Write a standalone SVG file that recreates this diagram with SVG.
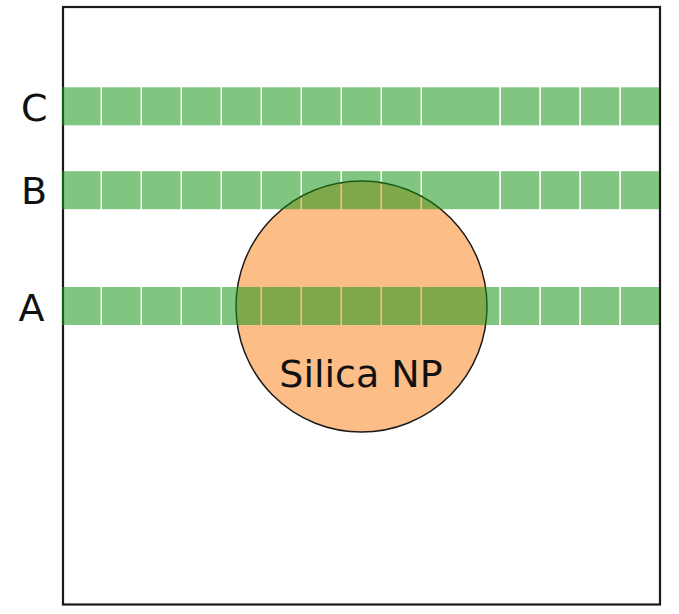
<svg xmlns="http://www.w3.org/2000/svg" xmlns:xlink="http://www.w3.org/1999/xlink" width="679" height="614" viewBox="0 0 679 614">
  <style>
    .frame { fill: #ffffff; stroke: #1a1a1a; stroke-width: 2.2; }
    .np { fill: #fdbd87; stroke: #1a1a1a; stroke-width: 1.5; }
    .cell { fill: #189718; fill-opacity: 0.55; }
    .lbl { font-family: "DejaVu Sans", "Liberation Sans", sans-serif; font-size: 38px; fill: #111111; }
  </style>
  <defs>
    <!-- one row of cells; the tenth cell is double width -->
    <g id="strip">
      <rect class="cell" x="62" y="0" width="38.5" height="38"/>
      <rect class="cell" x="102" y="0" width="38.5" height="38"/>
      <rect class="cell" x="142" y="0" width="38.5" height="38"/>
      <rect class="cell" x="182" y="0" width="38.5" height="38"/>
      <rect class="cell" x="222" y="0" width="38.5" height="38"/>
      <rect class="cell" x="262" y="0" width="38.5" height="38"/>
      <rect class="cell" x="302" y="0" width="38.5" height="38"/>
      <rect class="cell" x="342" y="0" width="38.5" height="38"/>
      <rect class="cell" x="382" y="0" width="38.5" height="38"/>
      <rect class="cell" x="422" y="0" width="77.3" height="38"/>
      <rect class="cell" x="501" y="0" width="38.3" height="38"/>
      <rect class="cell" x="541" y="0" width="38.3" height="38"/>
      <rect class="cell" x="581" y="0" width="38.3" height="38"/>
      <rect class="cell" x="621" y="0" width="38.2" height="38"/>
    </g>
  </defs>

  <g id="frame">
    <rect class="frame" x="63" y="7" width="597" height="597.5"/>
  </g>

  <g id="nanoparticle">
    <circle class="np" cx="361.5" cy="306.5" r="125.5"/>
  </g>

  <g id="strip-C">
    <use xlink:href="#strip" href="#strip" y="87.3"/>
  </g>
  <g id="strip-B">
    <use xlink:href="#strip" href="#strip" y="171.2"/>
  </g>
  <g id="strip-A">
    <use xlink:href="#strip" href="#strip" y="287"/>
  </g>

  <g id="labels">
    <text class="lbl" x="34.2" y="121" text-anchor="middle">C</text>
    <text class="lbl" x="34" y="204" text-anchor="middle">B</text>
    <text class="lbl" x="31.5" y="320.5" text-anchor="middle">A</text>
    <text class="lbl" x="361" y="386.5" text-anchor="middle">Silica NP</text>
  </g>
</svg>
